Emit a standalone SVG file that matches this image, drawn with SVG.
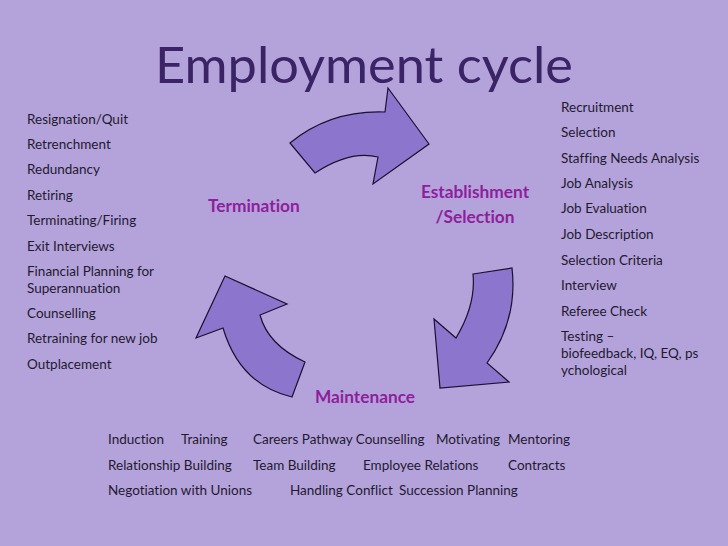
<svg xmlns="http://www.w3.org/2000/svg" width="728" height="546" viewBox="0 0 728 546">
<style>
text{font-variant-ligatures:none}
.t{font-family:Lato,"Open Sans","Liberation Sans",sans-serif;font-size:13.5px;fill:#1f1a30}
.lbl{font-family:Lato,"Open Sans","Liberation Sans",sans-serif;font-size:17.3px;font-weight:bold;fill:#8e1f9c}
.arr{fill:#8c75cc;stroke:#1a1030;stroke-width:1.2;stroke-linejoin:miter}
</style>
<rect width="728" height="546" fill="#b4a2db"/>
<text x="155" y="83" font-family="Lato,'Open Sans','Liberation Sans',sans-serif" font-size="50" fill="#3a2466" textLength="418" lengthAdjust="spacingAndGlyphs">Employment cycle</text>
<g id="connectors">
<path class="arr" d="M290,143 Q330,110 385,112 L388,88 L429,144 L373,184 L378,157 Q350,150 315,173 Z"/>
<path class="arr" d="M473,274 L512,268 Q518,320 487,363 L509,382 L440,388 L434,319 L456,338 Q476,305 473,274 Z"/>
<path class="arr" d="M225,276 L287,304 L260,315 Q268,345 305,362 L292,397 Q240,385 223,328 L196,338 Z"/>
</g>
<g id="termination">
<text class="lbl" x="208" y="212">Termination</text>
<text class="t" x="27" y="124">Resignation/Quit</text>
<text class="t" x="27" y="149">Retrenchment</text>
<text class="t" x="27" y="174">Redundancy</text>
<text class="t" x="27" y="200">Retiring</text>
<text class="t" x="27" y="225">Terminating/Firing</text>
<text class="t" x="27" y="251">Exit Interviews</text>
<text class="t" x="27" y="276">Financial Planning for</text>
<text class="t" x="27" y="293">Superannuation</text>
<text class="t" x="27" y="318">Counselling</text>
<text class="t" x="27" y="343">Retraining for new job</text>
<text class="t" x="27" y="369">Outplacement</text>
</g>
<g id="establishment">
<text class="lbl" x="475" y="198" text-anchor="middle">Establishment</text>
<text class="lbl" x="475" y="223" text-anchor="middle">/Selection</text>
<text class="t" x="561" y="112">Recruitment</text>
<text class="t" x="561" y="137">Selection</text>
<text class="t" x="561" y="163">Staffing Needs Analysis</text>
<text class="t" x="561" y="188">Job Analysis</text>
<text class="t" x="561" y="213">Job Evaluation</text>
<text class="t" x="561" y="239">Job Description</text>
<text class="t" x="561" y="265">Selection Criteria</text>
<text class="t" x="561" y="290">Interview</text>
<text class="t" x="561" y="316">Referee Check</text>
<text class="t" x="561" y="341">Testing –</text>
<text class="t" x="561" y="358">biofeedback, IQ, EQ, ps</text>
<text class="t" x="561" y="375">ychological</text>
</g>
<g id="maintenance">
<text class="lbl" x="365" y="403" text-anchor="middle">Maintenance</text>
<text class="t" x="108" y="444">Induction</text>
<text class="t" x="181" y="444">Training</text>
<text class="t" x="253" y="444">Careers Pathway Counselling</text>
<text class="t" x="436" y="444">Motivating</text>
<text class="t" x="508" y="444">Mentoring</text>
<text class="t" x="108" y="470">Relationship Building</text>
<text class="t" x="253" y="470">Team Building</text>
<text class="t" x="363" y="470">Employee Relations</text>
<text class="t" x="508" y="470">Contracts</text>
<text class="t" x="108" y="495">Negotiation with Unions</text>
<text class="t" x="290" y="495">Handling Conflict</text>
<text class="t" x="399" y="495">Succession Planning</text>
</g>
</svg>
